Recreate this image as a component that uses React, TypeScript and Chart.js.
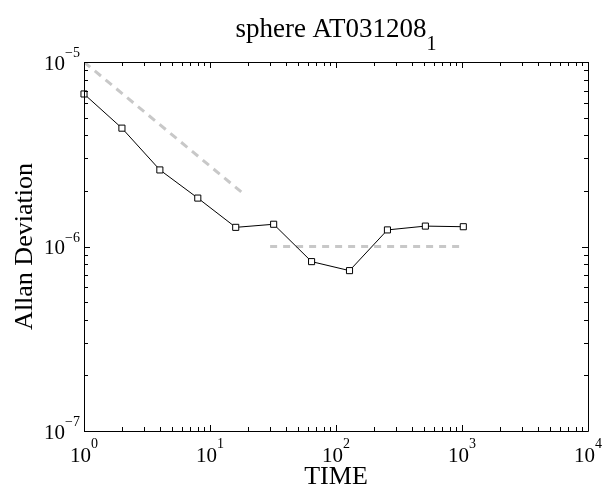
import React, { useEffect, useRef } from "react";
import { Chart, registerables } from "chart.js";

Chart.register(...registerables);

const times = [1, 2, 4, 8, 16, 32, 64, 128, 256, 512, 1024];
const allanDev = [6.71e-6, 4.38e-6, 2.6e-6, 1.83e-6, 1.27e-6, 1.32e-6, 8.28e-7, 7.4e-7, 1.23e-6, 1.29e-6, 1.28e-6];
const refSlopeX = [1, 19];
const refSlopeY = [1e-5, 1.9e-6];
const refFlatX = [30, 1000];
const refFlatY = [1e-6, 1e-6];
const xDecades = [0, 1, 2, 3, 4];
const yDecades = [-7, -6, -5];
const titleMain = "sphere AT031208";
const titleSub = "1";
const xTitle = "TIME";
const yTitle = "Allan Deviation";

const SERIF = "'Liberation Serif', 'Times New Roman', serif";

const axesPlugin = {
  id: "matlabAxes",
  afterDraw(chart: any) {
    const ctx = chart.ctx as CanvasRenderingContext2D;
    const xs = chart.scales.x;
    const ys = chart.scales.y;
    const { left, right, top, bottom } = chart.chartArea;
    ctx.save();
    ctx.strokeStyle = "#000";
    ctx.fillStyle = "#000";
    ctx.lineWidth = 1;
    ctx.beginPath();
    ctx.rect(Math.round(left) + 0.5, Math.round(top) + 0.5, Math.round(right - left), Math.round(bottom - top));
    ctx.stroke();

    ctx.beginPath();
    for (let d = xDecades[0]; d <= xDecades[xDecades.length - 1]; d++) {
      for (let m = 1; m <= 9; m++) {
        const v = m * Math.pow(10, d);
        if (v > Math.pow(10, xDecades[xDecades.length - 1])) break;
        const px = Math.round(xs.getPixelForValue(v)) + 0.5;
        const len = m === 1 ? 6 : 4;
        ctx.moveTo(px, bottom);
        ctx.lineTo(px, bottom - len);
        ctx.moveTo(px, top);
        ctx.lineTo(px, top + len);
      }
    }
    for (let d = yDecades[0]; d <= yDecades[yDecades.length - 1]; d++) {
      for (let m = 1; m <= 9; m++) {
        const v = m * Math.pow(10, d);
        if (v > Math.pow(10, yDecades[yDecades.length - 1]) * 1.0001) break;
        const py = Math.round(ys.getPixelForValue(v)) + 0.5;
        const len = m === 1 ? 6 : 4;
        ctx.moveTo(left, py);
        ctx.lineTo(left + len, py);
        ctx.moveTo(right, py);
        ctx.lineTo(right - len, py);
      }
    }
    ctx.stroke();

    const baseFont = "21px " + SERIF;
    const expFont = "14px " + SERIF;
    ctx.textBaseline = "alphabetic";
    ctx.textAlign = "left";
    for (const d of xDecades) {
      const px = xs.getPixelForValue(Math.pow(10, d));
      ctx.font = baseFont;
      const w1 = ctx.measureText("10").width;
      ctx.font = expFont;
      const e = String(d);
      const w2 = ctx.measureText(e).width;
      const start = px - (w1 + w2) / 2;
      ctx.font = baseFont;
      ctx.fillText("10", start, bottom + 31);
      ctx.font = expFont;
      ctx.fillText(e, start + w1, bottom + 17);
    }
    for (const d of yDecades) {
      const py = ys.getPixelForValue(Math.pow(10, d));
      ctx.font = baseFont;
      const w1 = ctx.measureText("10").width;
      ctx.font = expFont;
      const e = d < 0 ? "\u2212" + String(-d) : String(d);
      const w2 = ctx.measureText(e).width;
      const start = left - 4 - w1 - w2;
      ctx.font = baseFont;
      ctx.fillText("10", start, py + 7.5);
      ctx.font = expFont;
      ctx.fillText(e, start + w1, py - 5);
    }

    const cx = (left + right) / 2;
    ctx.font = "27px " + SERIF;
    const tw1 = ctx.measureText(titleMain).width;
    ctx.font = "20px " + SERIF;
    const tw2 = ctx.measureText(titleSub).width;
    const ts = cx - (tw1 + tw2) / 2;
    ctx.font = "27px " + SERIF;
    ctx.fillText(titleMain, ts, 37);
    ctx.font = "20px " + SERIF;
    ctx.fillText(titleSub, ts + tw1, 50);

    ctx.font = "26px " + SERIF;
    ctx.textAlign = "center";
    ctx.fillText(xTitle, cx, 484);

    ctx.save();
    ctx.translate(32, (top + bottom) / 2);
    ctx.rotate(-Math.PI / 2);
    ctx.fillText(yTitle, 0, 0);
    ctx.restore();

    ctx.restore();
  },
};

export default function App() {
  const ref = useRef<HTMLCanvasElement | null>(null);
  useEffect(() => {
    document.body.style.margin = "0";
    const canvas = ref.current;
    if (!canvas) return;
    const chart = new Chart(canvas, {
      type: "line",
      data: {
        datasets: [
          {
            label: "allan",
            data: times.map((t, i) => ({ x: t, y: allanDev[i] })),
            borderColor: "#000",
            borderWidth: 1,
            pointStyle: "rect",
            pointRadius: 4.3,
            pointBorderWidth: 1,
            pointBorderColor: "#000",
            pointBackgroundColor: "#fff",
            fill: false,
            tension: 0,
            clip: false as any,
            order: 0,
          },
          {
            label: "slope",
            data: refSlopeX.map((t, i) => ({ x: t, y: refSlopeY[i] })),
            borderColor: "#c8c8c8",
            borderWidth: 3,
            borderDash: [8, 6],
            pointRadius: 0,
            fill: false,
            order: 1,
          },
          {
            label: "flat",
            data: refFlatX.map((t, i) => ({ x: t, y: refFlatY[i] })),
            borderColor: "#c8c8c8",
            borderWidth: 3,
            borderDash: [7, 6],
            pointRadius: 0,
            fill: false,
            order: 1,
          },
        ],
      },
      options: {
        animation: false,
        responsive: false,
        devicePixelRatio: 1,
        layout: { padding: { left: 84, top: 62, right: 14, bottom: 56 } },
        plugins: { legend: { display: false }, tooltip: { enabled: false }, title: { display: false } },
        scales: {
          x: { type: "logarithmic", min: 1, max: 10000, display: false },
          y: { type: "logarithmic", min: 1e-7, max: 1e-5, display: false },
        },
      },
      plugins: [axesPlugin],
    });
    return () => chart.destroy();
  }, []);
  return (
    <div style={{ width: 602, height: 487, background: "#fff" }}>
      <canvas ref={ref} width={602} height={487} />
    </div>
  );
}
